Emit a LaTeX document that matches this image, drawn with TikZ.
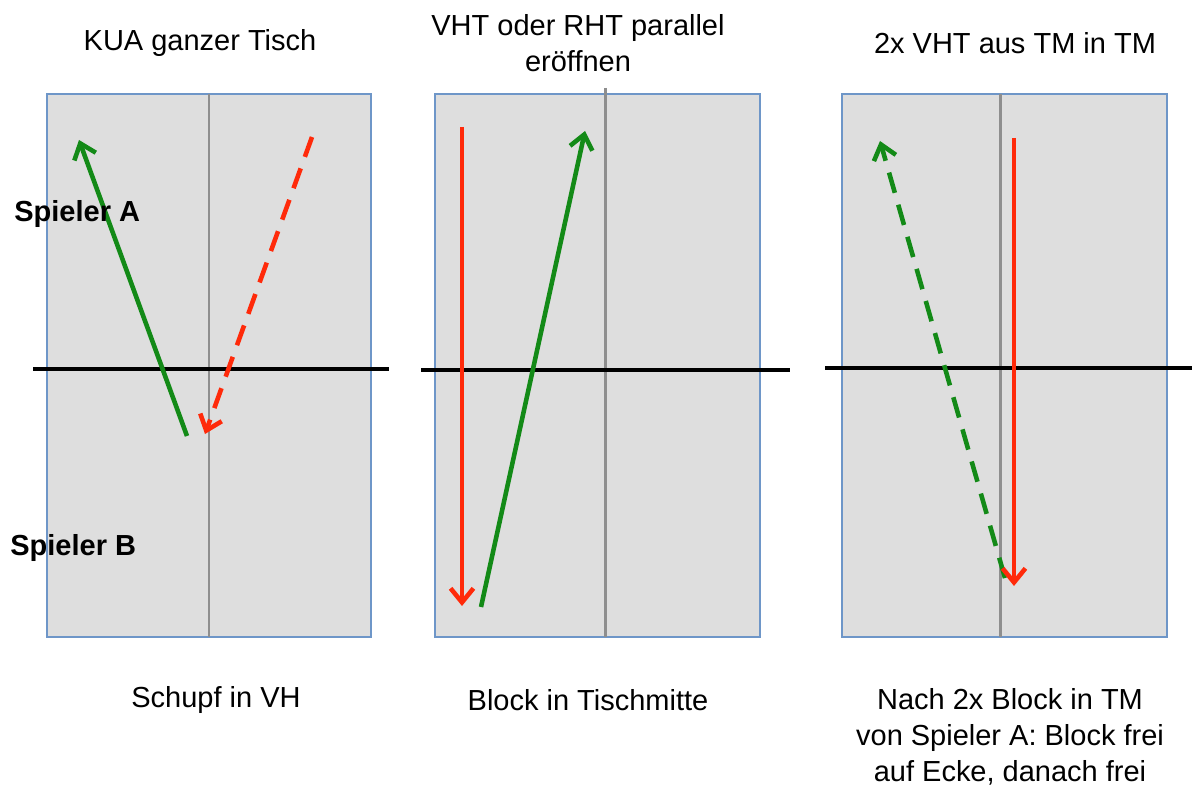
\documentclass[tikz,border=0pt]{standalone}
\usepackage{fontspec}
\setmainfont{Liberation Sans}
\usetikzlibrary{arrows.meta}
\definecolor{tischgrau}{HTML}{DEDEDE}
\definecolor{tischrand}{HTML}{6E96C8}
\definecolor{mittelgrau}{HTML}{8E8E8E}
\definecolor{ballgruen}{HTML}{138A17}
\definecolor{ballrot}{HTML}{FF2A0A}

\begin{document}
\begin{tikzpicture}[%
	x=0.02cm, y=-0.02cm,
	every node/.style = {font=\fontsize{16.5}{20.5}\selectfont, inner sep=0pt, align=center},
	spieler/.style={anchor=west, font=\bfseries\fontsize{16.5}{20.5}\selectfont},
	tisch/.style={fill=tischgrau, draw=tischrand, line width=1.5pt},
	mitte/.style={draw=mittelgrau, line width=1.7pt},
	netz/.style={draw=black, line width=1.8pt},
	ball/.style={line width=2.6pt, -{Straight Barb[length=8pt,width=13pt]}},
	gruen/.style={ball, draw=ballgruen},
	rot/.style={ball, draw=ballrot},
	gestrichelt/.style={dash pattern=on 12pt off 7pt}
	]
  \useasboundingbox (0,0) rectangle (1192,787);
  % tables
  \draw [tisch] (47,94) rectangle (371,637);
  \draw [tisch] (435,94) rectangle (760,637);
  \draw [tisch] (842,94) rectangle (1167,637);
  \draw [mitte] (209,94) -- (209,637);
  \draw [mitte] (605,88) -- (605,637);
  \draw [mitte] (1000,94) -- (1000,637);
  \draw [netz] (33,369) -- (389,369);
  \draw [netz] (421,370) -- (790,370);
  \draw [netz] (825,368) -- (1192,368);
  % ball paths
  \coordinate (g1a) at (187,436);  \coordinate (g1b) at (79,140);
  \coordinate (r1a) at (312,137);  \coordinate (r1b) at (205,434);
  \coordinate (r2a) at (462,127);  \coordinate (r2b) at (462,606);
  \coordinate (g2a) at (481,607);  \coordinate (g2b) at (585,131);
  \coordinate (g3a) at (1005,578); \coordinate (g3b) at (880,141);
  \coordinate (r3a) at (1014,138); \coordinate (r3b) at (1014,586);
  \draw [gruen] (g1a) -- (g1b);
  \draw [rot, gestrichelt] (r1a) -- (r1b);
  \draw [rot] (r2a) -- (r2b);
  \draw [gruen] (g2a) -- (g2b);
  \draw [gruen, gestrichelt] (g3a) -- (g3b);
  \draw [rot] (r3a) -- (r3b);
  % labels
  \node (t1) at (200,43) {KUA ganzer Tisch};
  \node (t2) at (578,43) {VHT oder RHT parallel\\er\"offnen};
  \node (t3) at (1015,43) {2x VHT aus TM in TM};
  \node [spieler] (sa) at (14,214) {Spieler A};
  \node [spieler] (sb) at (10,548) {Spieler B};
  \node (u1) at (216,700) {Schupf in VH};
  \node (u2) at (588,700) {Block in Tischmitte};
  \node (u3) at (1010,737) {Nach 2x Block in TM\\von Spieler A: Block frei\\auf Ecke, danach frei};
\end{tikzpicture}
\end{document}
